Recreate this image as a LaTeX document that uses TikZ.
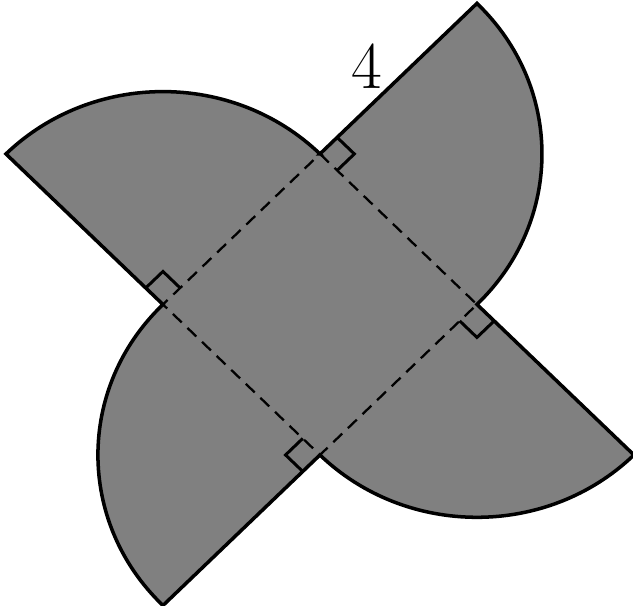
\documentclass[tikz,border=0pt]{standalone}
\usetikzlibrary{calc}
\definecolor{bladegray}{gray}{0.5}

\begin{document}
\begin{tikzpicture}[
  xscale=3.14, yscale=3.01,
  blade/.style={draw=black, fill=bladegray, line width=2pt},
  sq/.style={draw=black, dashed, dash pattern=on 7pt off 4.5pt, line width=1.3pt},
  rmark/.style={draw=black, line width=1.7pt},
  sidelbl/.style={inner sep=0pt, font=\fontsize{38}{40}\selectfont},
]
\useasboundingbox (-2.038,-2.003) rectangle (1.994,2.023);

% ---- corners of the square and tips of the blades ----
\coordinate (T) at (0,1);
\coordinate (R) at (1,0);
\coordinate (B) at (0,-1);
\coordinate (L) at (-1,0);
\coordinate (UR) at (1,2);
\coordinate (BR) at (2,-1);
\coordinate (BL) at (-1,-2);
\coordinate (LT) at (-2,1);

% ---- four quarter discs ----
\path[blade] (T) -- (UR) arc[start angle=45, end angle=-45, radius={sqrt(2)}]
  -- (BR) arc[start angle=-45, end angle=-135, radius={sqrt(2)}]
  -- (BL) arc[start angle=-135, end angle=-225, radius={sqrt(2)}]
  -- (LT) arc[start angle=135, end angle=45, radius={sqrt(2)}] -- cycle;

% ---- dashed square ----
\draw[sq] (T) -- (R) -- (B) -- (L) -- cycle;

% ---- right angles ----
\foreach \c/\a/\b in {T/45/-45, R/-45/-135, B/-135/-225, L/135/45}
  \draw[rmark] (\c) ++(\a:0.155) -- ++(\b:0.155) -- ++(\a+180:0.155);

% ---- side length ----
\node[sidelbl] (side) at ($(T)!0.5!(UR)+(-0.2,0.08)$) {4};
\end{tikzpicture}
\end{document}
